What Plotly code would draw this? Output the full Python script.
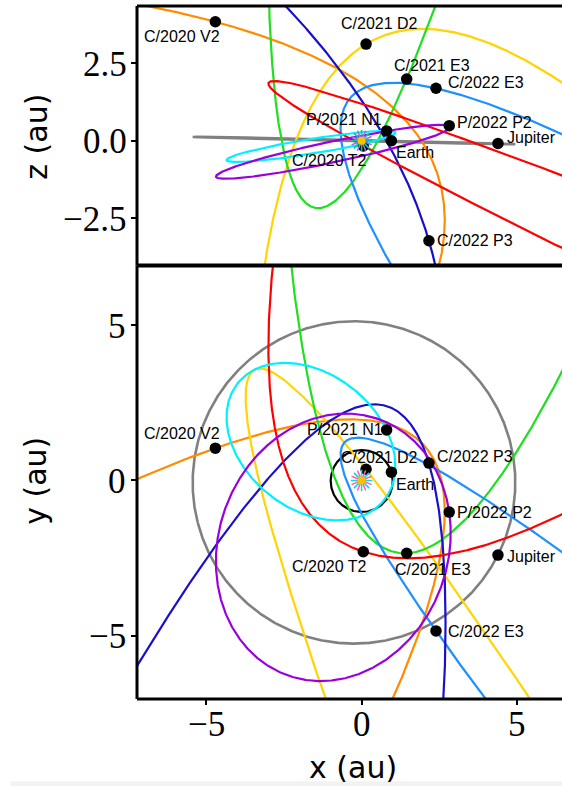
import numpy as np
import plotly.graph_objects as go
from plotly.subplots import make_subplots

# ---- orbital elements (heliocentric ecliptic), angles in degrees ----
names = ["C/2020 V2", "C/2021 D2", "C/2021 E3", "C/2022 E3",
         "C/2022 P3", "C/2020 T2", "P/2021 N1", "P/2022 P2"]
q_au = [2.228, 2.882, 1.767, 1.1122, 2.531, 2.055, 0.967, 2.065]
ecc = [1.0, 1.026, 0.9998, 1.0003, 0.9913, 0.991, 0.681, 0.534]
incl_deg = [131.6, 83.97, 112.67, 109.17, 59.73, 27.87, 12.12, 12.21]
node_deg = [212.4, 305.95, 104.28, 302.56, 71.53, 83.37, 297.88, 291.91]
argperi_deg = [162.4, 126.88, 228.51, 145.81, 1.50, 150.55, 25.06, 134.52]
nu_epoch_deg = [-106.1, -33.1, -87.8, -127.4, -73.4, 38.5, 100.1, -85.6]

planet_names = ["Earth", "Jupiter"]
planet_a = [1.0, 5.2026]
planet_e = [0.0167, 0.0485]
planet_incl = [0.0, 1.303]
planet_node = [0.0, 100.46]
planet_argperi = [102.94, 273.87]
planet_nu_epoch = [-87.3, -43.0]

# axis ticks
x_ticks = [-5, 0, 5]
z_ticks = [-2.5, 0.0, 2.5]
y_ticks = [-5, 0, 5]
x_range = [-7.239, 6.461]
z_range = [-4.02, 4.345]
y_range = [-7.045, 6.935]

# ---- styles ----
orbit_colors = ["#FF8C00", "#FFD400", "#1EE01E", "#1E90FF",
                "#1A10CC", "#FF0000", "#00F0FF", "#9A00DE"]
planet_colors = ["#000000", "#808080"]

# label placement (anchor, xshift, yshift) for the x-z and x-y panels
label_xz = {
    "C/2020 V2": ("right", 7, -15), "C/2021 D2": ("center", 13, 21),
    "C/2021 E3": ("left", -15, 14), "C/2022 E3": ("left", 10, 6),
    "P/2021 N1": ("right", -3, 11), "P/2022 P2": ("left", 6, 3),
    "Jupiter": ("left", 7, 6), "Earth": ("left", 3, -12),
    "C/2020 T2": ("right", 6, -15), "C/2022 P3": ("left", 6, 0),
}
label_xy = {
    "C/2020 V2": ("right", 7, 15), "P/2021 N1": ("right", -2, 0),
    "C/2021 D2": ("center", 13, 12), "Earth": ("left", 3, -12),
    "C/2022 P3": ("left", 6, 7), "P/2022 P2": ("left", 6, 0),
    "Jupiter": ("left", 7, -1), "C/2020 T2": ("right", 6, -15),
    "C/2021 E3": ("left", -14, -16), "C/2022 E3": ("left", 10, -1),
}

RAD = np.pi / 180


def kepler_xyz(q, e, inc, node, peri, nu):
    """Positions on a conic orbit for true anomalies nu (radians)."""
    r = q * (1 + e) / (1 + e * np.cos(nu))
    u = peri * RAD + nu
    ci, si = np.cos(inc * RAD), np.sin(inc * RAD)
    cn, sn = np.cos(node * RAD), np.sin(node * RAD)
    x = r * (cn * np.cos(u) - sn * np.sin(u) * ci)
    y = r * (sn * np.cos(u) + cn * np.sin(u) * ci)
    z = r * np.sin(u) * si
    return x, y, z, r


def orbit_path(q, e, inc, node, peri, rmax=120.0):
    if e < 0.97:
        nu = np.linspace(-np.pi, np.pi, 1500)
    else:
        tmax = np.sqrt(rmax / q - 1)
        if e > 1:
            tmax = min(tmax, 0.995 * np.tan(np.arccos(-1 / e) / 2))
        nu = 2 * np.arctan(np.linspace(-tmax, tmax, 6000))
    x, y, z, r = kepler_xyz(q, e, inc, node, peri, nu)
    ok = (r > 0) & (r < rmax)
    return x[ok], y[ok], z[ok]


fig = make_subplots(rows=2, cols=1, shared_xaxes=True, vertical_spacing=0,
                    row_heights=[0.3743, 0.6257])

# planet orbits
for k in range(len(planet_names)):
    a, e = planet_a[k], planet_e[k]
    x, y, z = orbit_path(a * (1 - e), e, planet_incl[k], planet_node[k], planet_argperi[k])
    lw = 2.6 if k == 1 else 2.2
    fig.add_trace(go.Scatter(x=x, y=z, mode="lines", hoverinfo="skip",
                             line=dict(color=planet_colors[k], width=lw)), 1, 1)
    fig.add_trace(go.Scatter(x=x, y=y, mode="lines", hoverinfo="skip",
                             line=dict(color=planet_colors[k], width=lw)), 2, 1)

# comet orbits
for k in range(len(names)):
    x, y, z = orbit_path(q_au[k], ecc[k], incl_deg[k], node_deg[k], argperi_deg[k])
    fig.add_trace(go.Scatter(x=x, y=z, mode="lines", hoverinfo="skip",
                             line=dict(color=orbit_colors[k], width=2.2)), 1, 1)
    fig.add_trace(go.Scatter(x=x, y=y, mode="lines", hoverinfo="skip",
                             line=dict(color=orbit_colors[k], width=2.2)), 2, 1)

# current positions
bodies, bx, by, bz = [], [], [], []
for k in range(len(names)):
    x, y, z, _ = kepler_xyz(q_au[k], ecc[k], incl_deg[k], node_deg[k],
                            argperi_deg[k], nu_epoch_deg[k] * RAD)
    bodies.append(names[k]); bx.append(x); by.append(y); bz.append(z)
for k in range(len(planet_names)):
    a, e = planet_a[k], planet_e[k]
    x, y, z, _ = kepler_xyz(a * (1 - e), e, planet_incl[k], planet_node[k],
                            planet_argperi[k], planet_nu_epoch[k] * RAD)
    bodies.append(planet_names[k]); bx.append(x); by.append(y); bz.append(z)

dot = dict(color="black", size=11.5)
fig.add_trace(go.Scatter(x=bx, y=bz, mode="markers", marker=dot, hoverinfo="skip"), 1, 1)
fig.add_trace(go.Scatter(x=bx, y=by, mode="markers", marker=dot, hoverinfo="skip"), 2, 1)

# the Sun
for row in (1, 2):
    for ang in (0, 22.5):
        fig.add_trace(go.Scatter(x=[0], y=[0], mode="markers", hoverinfo="skip",
                                 marker=dict(symbol="asterisk-open", size=18, angle=ang,
                                             line=dict(color="#9B1FE8", width=1.6))), row, 1)
    fig.add_trace(go.Scatter(x=[0], y=[0], mode="markers", hoverinfo="skip",
                             marker=dict(symbol="circle", size=8, color="#F5C400",
                                         line=dict(width=0))), row, 1)

# labels
lab_font = dict(family="Liberation Sans, Arial, sans-serif", size=16, color="black")
for name, x, y, z in zip(bodies, bx, by, bz):
    for row, pos, table in ((1, z, label_xz), (2, y, label_xy)):
        anc, dx, dy = table[name]
        fig.add_annotation(x=x, y=pos, text=name, showarrow=False, xanchor=anc,
                           yanchor="middle", xshift=dx, yshift=dy, font=lab_font,
                           row=row, col=1)

axis_common = dict(showgrid=False, zeroline=False, showline=False, ticks="outside",
                   ticklen=5, tickwidth=1.5, tickcolor="black", showticklabels=False)
fig.update_xaxes(range=x_range, tickvals=x_ticks, **axis_common)
fig.update_xaxes(ticks="", row=1, col=1)
fig.update_yaxes(range=z_range, tickvals=z_ticks, row=1, col=1, **axis_common)
fig.update_yaxes(range=y_range, tickvals=y_ticks, row=2, col=1, **axis_common)

# tick labels in a serif face
tick_font = dict(family="Liberation Serif, DejaVu Serif, serif", size=35, color="black")
def fmt(v, nd):
    s = f"{v:.{nd}f}"
    return s.replace("-", "\u2212")
for v in z_ticks:
    fig.add_annotation(x=0, xref="paper", y=v, yref="y", text=fmt(v, 1), showarrow=False,
                       xanchor="right", yanchor="middle", xshift=-8, yshift=-1, font=tick_font)
for v in y_ticks:
    fig.add_annotation(x=0, xref="paper", y=v, yref="y2", text=fmt(v, 0), showarrow=False,
                       xanchor="right", yanchor="middle", xshift=-9, yshift=-1, font=tick_font)
for v in x_ticks:
    fig.add_annotation(x=v, xref="x2", y=0, yref="paper", text=fmt(v, 0), showarrow=False,
                       xanchor="center", yanchor="top", yshift=-4, font=tick_font)

# panel frames (left, top, bottom edges)
split = 0.6257
frame = dict(color="black", width=3)
for y0, y1 in ((split, 1.0), (0.0, split)):
    fig.add_shape(type="line", xref="paper", yref="paper", x0=0, x1=0, y0=y0, y1=y1, line=frame)
fig.add_shape(type="line", xref="paper", yref="paper", x0=0, x1=1, y0=1, y1=1, line=frame)
fig.add_shape(type="line", xref="paper", yref="paper", x0=0, x1=1, y0=split, y1=split,
              line=dict(color="black", width=4))
fig.add_shape(type="line", xref="paper", yref="paper", x0=0, x1=1, y0=0, y1=0, line=frame)

title_font = dict(family="DejaVu Sans, sans-serif", size=30, color="black")
fig.add_annotation(text="x (au)", xref="paper", yref="paper", x=(353 - 137.3) / 424.7,
                   y=-(767 - 698.7) / 692.7, showarrow=False, font=title_font,
                   xanchor="center", yanchor="middle")
fig.add_annotation(text="z (au)", xref="paper", yref="paper", x=-(137.3 - 36) / 424.7,
                   y=(698.7 - 137) / 692.7, showarrow=False, font=title_font, textangle=-90,
                   xanchor="center", yanchor="middle")
fig.add_annotation(text="y (au)", xref="paper", yref="paper", x=-(137.3 - 36) / 424.7,
                   y=(698.7 - 481) / 692.7, showarrow=False, font=title_font, textangle=-90,
                   xanchor="center", yanchor="middle")

# faint strip along the bottom edge of the page
fig.add_shape(type="rect", xref="paper", yref="paper", x0=-(137.3 - 11) / 424.7, x1=1,
              y0=-(786 - 698.7) / 692.7, y1=-(781 - 698.7) / 692.7,
              fillcolor="#F2F2F2", line=dict(width=0), layer="below")

fig.update_layout(width=562, height=786, margin=dict(l=137.3, r=0, t=6, b=87.3),
                  showlegend=False, plot_bgcolor="white", paper_bgcolor="white")
fig.write_html("out.html")
